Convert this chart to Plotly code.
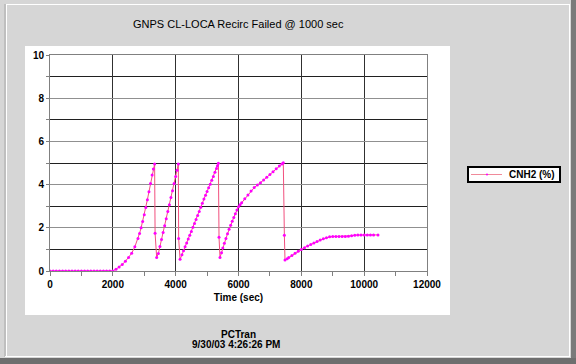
import plotly.graph_objects as go

# ---- data ----
time_sec = [
    0, 100, 200, 300, 400, 500, 600, 700, 800, 900, 1000, 1100, 1200, 1300, 1400,
    1500, 1600, 1700, 1800, 1900,
    2000, 2100, 2200, 2300, 2400, 2500, 2600, 2700, 2800, 2850, 2900, 2950, 3000, 3050,
    3100, 3150, 3200, 3250, 3290, 3330,
    3345, 3395,
    3450, 3500, 3550, 3600, 3650, 3700, 3750, 3800, 3850, 3900, 3950, 4000, 4045, 4085,
    4095, 4140,
    4200, 4250, 4300, 4350, 4400, 4450, 4500, 4550, 4600, 4650, 4700, 4750, 4800, 4850,
    4900, 4950, 5000, 5050, 5100, 5150, 5200, 5250, 5300, 5330, 5360,
    5380, 5411,
    5460, 5500, 5550, 5600, 5650, 5700, 5750, 5800, 5850, 5900, 5950, 6000, 6050, 6100,
    6200, 6300, 6400, 6500, 6600, 6700, 6800, 6900, 7000, 7100, 7200, 7300, 7380, 7426,
    7460, 7480,
    7550, 7600, 7700, 7800, 7900, 8000, 8100, 8200, 8300, 8400, 8500, 8600, 8700, 8800,
    8900, 9000, 9100, 9200, 9300, 9400, 9500, 9600, 9700, 9800, 9900, 10000, 10100,
    10200, 10300, 10440,
]
cnh2_pct = [
    0, 0, 0, 0, 0, 0, 0, 0, 0, 0, 0, 0, 0, 0, 0,
    0, 0, 0, 0, 0,
    0.00, 0.08, 0.18, 0.30, 0.45, 0.62, 0.82, 1.12, 1.50, 1.74, 2.00, 2.29, 2.60, 2.94,
    3.30, 3.67, 4.05, 4.44, 4.72, 4.95,
    1.75, 0.63,
    0.81, 1.13, 1.46, 1.78, 2.10, 2.42, 2.75, 3.07, 3.40, 3.72, 4.05, 4.38, 4.67, 4.95,
    1.50, 0.54,
    0.75, 0.94, 1.12, 1.30, 1.48, 1.66, 1.83, 2.02, 2.20, 2.39, 2.57, 2.76, 2.95, 3.14,
    3.33, 3.51, 3.68, 3.85, 4.02, 4.20, 4.38, 4.57, 4.75, 4.87, 4.99,
    1.56, 0.63,
    0.85, 1.07, 1.29, 1.50, 1.72, 1.93, 2.12, 2.30, 2.48, 2.65, 2.82, 2.98, 3.07, 3.16,
    3.34, 3.52, 3.70, 3.86, 3.98, 4.08, 4.21, 4.34, 4.47, 4.60, 4.73, 4.86, 4.95, 5.01,
    1.65, 0.51,
    0.57, 0.62, 0.72, 0.82, 0.92, 1.00, 1.08, 1.16, 1.23, 1.30, 1.37, 1.43, 1.49, 1.54,
    1.58, 1.60, 1.60, 1.60, 1.60, 1.60, 1.61, 1.63, 1.66, 1.67, 1.67, 1.67, 1.67,
    1.67, 1.67, 1.67,
]
series_name = "CNH2 (%)"
chart_title = "GNPS CL-LOCA Recirc Failed @ 1000 sec"
x_title = "Time (sec)"
footer_lines = ["PCTran", "9/30/03 4:26:26 PM"]

# ---- layout geometry (pixels) ----
W, H = 576, 364
PL, PR, PT, PB = 50, 427, 55, 271  # plot area edges


def px(x):
    return (x - PL) / (PR - PL)


def py(y):
    return (PB - y) / (PB - PT)


FONT = "Liberation Sans, Arial, sans-serif"
BG = "#D6D6D6"
LINE_COL = "#F2507E"
MARK_COL = "#FF00FF"

fig = go.Figure()
fig.add_trace(go.Scatter(
    x=time_sec, y=cnh2_pct, mode="lines+markers", name=series_name,
    line=dict(color=LINE_COL, width=1),
    marker=dict(color=MARK_COL, size=3, line=dict(width=0)),
    showlegend=False,
))

shapes = [
    # white chart panel
    dict(type="rect", xref="paper", yref="paper", layer="below",
         x0=px(25), x1=px(450), y0=py(315), y1=py(46),
         fillcolor="white", line=dict(width=0)),
    # window frame: highlights
    dict(type="line", xref="paper", yref="paper", x0=px(6), x1=px(569), y0=py(4.5), y1=py(4.5),
         line=dict(color="white", width=1)),
    dict(type="line", xref="paper", yref="paper", x0=px(6.5), x1=px(6.5), y0=py(4), y1=py(356),
         line=dict(color="white", width=1)),
    dict(type="line", xref="paper", yref="paper", x0=px(5), x1=px(5), y0=py(4), y1=py(357),
         line=dict(color="#A8A8A8", width=1)),
    dict(type="line", xref="paper", yref="paper", x0=px(569.5), x1=px(569.5), y0=py(4), y1=py(357),
         line=dict(color="white", width=1)),
    dict(type="line", xref="paper", yref="paper", x0=px(5), x1=px(570), y0=py(356.5), y1=py(356.5),
         line=dict(color="white", width=1)),
    # dark right and bottom bands
    dict(type="rect", xref="paper", yref="paper", x0=px(571), x1=px(577), y0=py(0), y1=py(365),
         fillcolor="#7A7A7A", line=dict(width=0)),
    dict(type="rect", xref="paper", yref="paper", x0=px(0), x1=px(577), y0=py(358), y1=py(365),
         fillcolor="#6E6E6E", line=dict(width=0)),
    # legend box
    dict(type="rect", xref="paper", yref="paper", x0=px(468), x1=px(560), y0=py(182), y1=py(167),
         fillcolor="white", line=dict(color="black", width=2)),
    dict(type="line", xref="paper", yref="paper", x0=px(471), x1=px(502), y0=py(174.5), y1=py(174.5),
         line=dict(color="#F08A9A", width=1)),
    dict(type="circle", xref="paper", yref="paper", x0=px(486), x1=px(488),
         y0=py(175.5), y1=py(173.5), fillcolor=MARK_COL, line=dict(width=0)),
]

annotations = [
    dict(text=chart_title, xref="paper", yref="paper", x=px(238), y=py(24),
         xanchor="center", yanchor="middle", showarrow=False,
         font=dict(family=FONT, size=11, color="black")),
    dict(text=footer_lines[0], xref="paper", yref="paper", x=px(238), y=py(334),
         xanchor="center", yanchor="middle", showarrow=False,
         font=dict(family=FONT, size=10, color="black", weight="bold")),
    dict(text=footer_lines[1], xref="paper", yref="paper", x=px(236), y=py(344),
         xanchor="center", yanchor="middle", showarrow=False,
         font=dict(family=FONT, size=10, color="black", weight="bold")),
    dict(text=series_name, xref="paper", yref="paper", x=px(557), y=py(174.5),
         xanchor="right", yanchor="middle", showarrow=False,
         font=dict(family=FONT, size=10, color="black", weight="bold")),
]

fig.update_layout(
    width=W, height=H,
    margin=dict(l=PL, r=W - PR, t=PT, b=H - PB, pad=0),
    paper_bgcolor=BG, plot_bgcolor="white",
    showlegend=False,
    shapes=shapes, annotations=annotations,
    font=dict(family=FONT, color="black"),
)

fig.update_xaxes(
    range=[0, 12000], dtick=2000, tick0=0, tickformat="d",
    showgrid=True, gridcolor="#303030", gridwidth=1,
    ticks="outside", ticklen=4, tickcolor="#808080",
    minor=dict(dtick=1000, ticks="outside", ticklen=4, tickcolor="#808080", showgrid=False),
    showline=True, linecolor="#808080", linewidth=1, mirror=True, zeroline=False,
    tickfont=dict(family=FONT, size=10, color="black", weight="bold"),
    title=dict(text=x_title, standoff=4,
               font=dict(family=FONT, size=10, color="black", weight="bold")),
)
fig.update_yaxes(
    range=[0, 10], dtick=2, tick0=0, tickformat="d",
    showgrid=True, gridcolor="#909090", gridwidth=1,
    ticks="outside", ticklen=3, tickcolor="#808080",
    minor=dict(dtick=1, ticks="outside", ticklen=3, tickcolor="#808080",
               showgrid=True, gridcolor="#202020", gridwidth=1),
    showline=True, linecolor="#808080", linewidth=1, mirror=True, zeroline=False,
    tickfont=dict(family=FONT, size=10, color="black", weight="bold"),
)

fig.write_html(
    "out.html",
    config={"displayModeBar": False},
    post_script="document.body.style.margin='0';document.body.style.overflow='hidden';",
)
